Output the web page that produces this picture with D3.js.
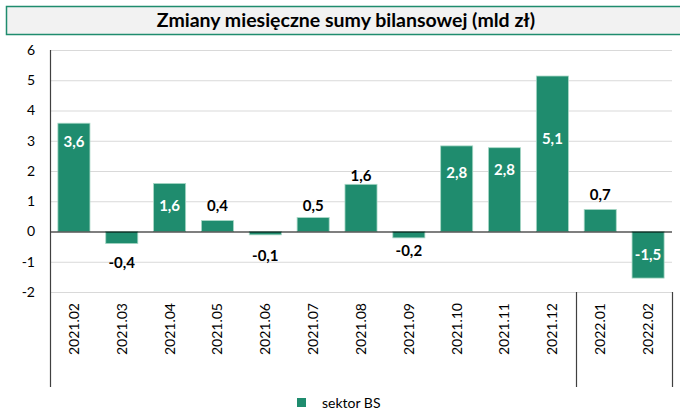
<!DOCTYPE html>
<html>
<head>
<meta charset="utf-8">
<script src="https://cdn.jsdelivr.net/npm/d3@7"></script>
<style>
  body { margin: 0; background: #fff; }
  svg { display: block; font-family: Lato, "Open Sans", sans-serif; }
</style>
</head>
<body>
<div class="chart"></div>
<script>
// data
var months = ["2021.02", "2021.03", "2021.04", "2021.05", "2021.06", "2021.07", "2021.08",
              "2021.09", "2021.10", "2021.11", "2021.12", "2022.01", "2022.02"];
var values = [3.58, -0.40, 1.59, 0.36, -0.11, 0.46, 1.56, -0.21, 2.83, 2.77, 5.14, 0.73, -1.54];
var yTicks = [-2, -1, 0, 1, 2, 3, 4, 5, 6];
var seriesName = "sektor BS";
var title = "Zmiany miesięczne sumy bilansowej (mld zł)";

// where each value label sits (in axis units), as placed in the original
var labelPos = [2.96, -1.04, 0.85, 0.85, -0.81, 0.85, 1.84, -0.64, 1.95, 2.03, 3.05, 1.20, -0.78];

var width = 680, height = 414;
var margin = {top: 50, left: 50, right: 8, bottom: 122};
var green = "#1f8c6e";

var svg = d3.select(".chart")
    .append("svg")
    .attr("width", width)
    .attr("height", height);

// title box
svg.append("rect")
    .attr("x", 6.5)
    .attr("y", 6.5)
    .attr("width", 700)
    .attr("height", 28)
    .attr("fill", "#f2f2f2")
    .attr("stroke", green)
    .attr("stroke-width", 1.5);

svg.append("text")
    .attr("x", 346)
    .attr("y", 27)
    .attr("text-anchor", "middle")
    .attr("font-size", "19.5px")
    .attr("font-weight", "bold")
    .attr("fill", "#000")
    .text(title);

var x = d3.scaleBand()
    .domain(months)
    .range([margin.left, width - margin.right])
    .paddingInner(0.33)
    .paddingOuter(0.165);

var y = d3.scaleLinear()
    .domain([-2, 6])
    .range([292, 50]);

// gridlines
svg.append("g")
    .selectAll("line")
    .data(yTicks.filter(function(d) { return d != 0; }))
    .enter().append("line")
    .attr("x1", margin.left)
    .attr("x2", width - margin.right)
    .attr("y1", function(d) { return y(d) + 0.5; })
    .attr("y2", function(d) { return y(d) + 0.5; })
    .attr("stroke", "#d9d9d9")
    .attr("stroke-width", 1);

// y labels
svg.append("g")
    .selectAll("text")
    .data(yTicks)
    .enter().append("text")
    .attr("x", 35)
    .attr("y", function(d) { return y(d); })
    .attr("dy", "0.35em")
    .attr("text-anchor", "end")
    .attr("font-size", "14px")
    .attr("fill", "#000")
    .text(function(d) { return d < 0 ? "-" + Math.abs(d) : d; });

// bars
svg.append("g")
    .selectAll("rect")
    .data(values)
    .enter().append("rect")
    .attr("x", function(d, i) { return x(months[i]); })
    .attr("y", function(d) { return y(Math.max(0, d)); })
    .attr("width", x.bandwidth())
    .attr("height", function(d) { return Math.abs(y(d) - y(0)); })
    .attr("fill", green)
    .attr("stroke", "#a8d8c6")
    .attr("stroke-width", 0.8);

// zero line
svg.append("line")
    .attr("x1", margin.left)
    .attr("x2", width - margin.right)
    .attr("y1", y(0) + 0.5)
    .attr("y2", y(0) + 0.5)
    .attr("stroke", "#000")
    .attr("stroke-width", 1.2);

// y axis line
svg.append("line")
    .attr("x1", margin.left + 0.5)
    .attr("x2", margin.left + 0.5)
    .attr("y1", 50)
    .attr("y2", 387)
    .attr("stroke", "#404040")
    .attr("stroke-width", 1.2);

// year separators below the plot
var sepX = [x("2022.01") - x.step() * x.paddingInner() / 2, width - margin.right];
svg.append("g")
    .selectAll("line")
    .data(sepX)
    .enter().append("line")
    .attr("x1", function(d) { return Math.round(d) + 0.5; })
    .attr("x2", function(d) { return Math.round(d) + 0.5; })
    .attr("y1", y(-2))
    .attr("y2", 387)
    .attr("stroke", "#404040")
    .attr("stroke-width", 1.2);

// category labels
svg.append("g")
    .selectAll("text")
    .data(months)
    .enter().append("text")
    .attr("transform", function(d) {
        return "translate(" + (x(d) + x.bandwidth() / 2) + ",303) rotate(-90)";
    })
    .attr("dy", "0.35em")
    .attr("text-anchor", "end")
    .attr("font-size", "14px")
    .attr("fill", "#000")
    .text(function(d) { return d; });

// value labels, polish style: comma and plain hyphen
var fmt = d3.format(".1f");
svg.append("g")
    .selectAll("text")
    .data(values)
    .enter().append("text")
    .attr("x", function(d, i) { return x(months[i]) + x.bandwidth() / 2; })
    .attr("y", function(d, i) { return y(labelPos[i]); })
    .attr("dy", "0.35em")
    .attr("text-anchor", "middle")
    .attr("font-size", "15px")
    .attr("font-weight", "bold")
    .attr("fill", function(d, i) {
        var inside = d > 0 ? labelPos[i] < d : labelPos[i] > d;
        return inside ? "#fff" : "#000";
    })
    .text(function(d) { return fmt(d).replace(".", ",").replace("\u2212", "-"); });

// legend
svg.append("rect")
    .attr("x", 297)
    .attr("y", 398)
    .attr("width", 9)
    .attr("height", 9)
    .attr("fill", green);

svg.append("text")
    .attr("x", 322)
    .attr("y", 403)
    .attr("dy", "0.35em")
    .attr("font-size", "14px")
    .attr("fill", "#000")
    .text(seriesName);
</script>
</body>
</html>
